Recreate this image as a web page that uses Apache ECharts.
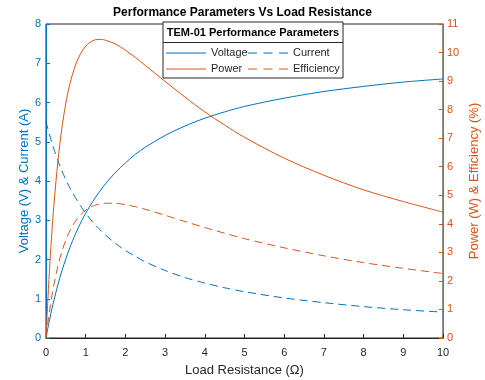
<!DOCTYPE html>
<html>
<head>
<meta charset="utf-8">
<script src="https://cdn.jsdelivr.net/npm/echarts@6/dist/echarts.min.js"></script>
<style>html,body{margin:0;padding:0;background:#fff;}#c{width:485px;height:380px;}</style>
</head>
<body>
<div id="c"></div>
<script>
var resistance = [0, 0.05, 0.1, 0.15, 0.2, 0.3, 0.4, 0.5, 0.6, 0.75, 0.9, 1, 1.1, 1.25, 1.4, 1.5, 1.75, 2, 2.25, 2.5, 3, 3.5, 4, 4.5, 5, 6, 7, 8, 9, 10];
var voltage    = [0, 0.27, 0.51, 0.75, 0.96, 1.36, 1.71, 2.02, 2.30, 2.67, 2.99, 3.18, 3.35, 3.59, 3.80, 3.93, 4.22, 4.46, 4.68, 4.86, 5.16, 5.40, 5.60, 5.76, 5.90, 6.11, 6.28, 6.41, 6.52, 6.60];
var current    = [5.52, 5.32, 5.14, 4.97, 4.81, 4.52, 4.26, 4.03, 3.83, 3.56, 3.32, 3.18, 3.05, 2.87, 2.72, 2.62, 2.41, 2.23, 2.08, 1.94, 1.72, 1.54, 1.40, 1.28, 1.18, 1.02, 0.90, 0.80, 0.72, 0.66];
var power      = [0, 1.43, 2.67, 3.75, 4.68, 6.19, 7.35, 8.23, 8.89, 9.59, 10.03, 10.22, 10.35, 10.45, 10.46, 10.43, 10.30, 10.08, 9.83, 9.55, 8.99, 8.44, 7.92, 7.46, 7.03, 6.30, 5.70, 5.19, 4.78, 4.41];
var efficiency = [0, 0.56, 1.05, 1.49, 1.87, 2.52, 3.03, 3.43, 3.75, 4.11, 4.36, 4.48, 4.57, 4.66, 4.71, 4.72, 4.72, 4.67, 4.60, 4.51, 4.30, 4.08, 3.87, 3.67, 3.48, 3.16, 2.88, 2.64, 2.44, 2.26];
var xTicks = [0,1,2,3,4,5,6,7,8,9,10];
var leftTicks = [0,1,2,3,4,5,6,7,8];
var rightTicks = [0,1,2,3,4,5,6,7,8,9,10,11];

var BLUE = '#0072BD', ORANGE = '#D95319', DARK = '#262626';
var FONT = 'Liberation Sans, Arial, Helvetica, sans-serif';
var SOLID_ICON = 'path://M0,0h40v1h-40z';
var DASH_ICON = 'path://M0,0h9v1h-9zM15.5,0h9v1h-9zM31,0h9v1h-9z';
function pairs(ys){ return resistance.map(function(x,i){ return [x, ys[i]]; }); }

var chart = echarts.init(document.getElementById('c'), null, {renderer:'canvas'});
chart.setOption({
  animation: false,
  backgroundColor: '#fff',
  title: {
    text: 'Performance Parameters Vs Load Resistance',
    left: 'center', top: 2,
    textStyle: {fontFamily: FONT, fontSize: 12, fontWeight: 'bold', color: '#000'}
  },
  grid: {left: 46, right: 42, top: 24, bottom: 42, containLabel: false, outerBoundsMode: 'none',
         show: true, borderColor: DARK, borderWidth: 1, backgroundColor: 'transparent'},
  xAxis: {
    type: 'value', min: xTicks[0], max: xTicks[xTicks.length-1], interval: 1,
    name: 'Load Resistance (Ω)', nameLocation: 'middle', nameGap: 26, nameMoveOverlap: false,
    nameTextStyle: {fontFamily: FONT, fontSize: 13, color: DARK},
    axisLine: {show: true, lineStyle: {color: DARK, width: 1}},
    axisTick: {show: true, inside: true, length: 4, lineStyle: {color: DARK}},
    axisLabel: {fontFamily: FONT, fontSize: 11, color: DARK, margin: 9},
    splitLine: {show: false}
  },
  yAxis: [{
    type: 'value', min: leftTicks[0], max: leftTicks[leftTicks.length-1], interval: 1, position: 'left',
    name: 'Voltage (V) & Current (A)', nameLocation: 'middle', nameGap: 15, nameRotate: 90, nameMoveOverlap: false,
    nameTextStyle: {fontFamily: FONT, fontSize: 13, color: BLUE},
    axisLine: {show: true, lineStyle: {color: BLUE, width: 1}},
    axisTick: {show: true, inside: true, length: 4, lineStyle: {color: BLUE}},
    axisLabel: {fontFamily: FONT, fontSize: 11, color: BLUE, margin: 5},
    splitLine: {show: false}
  }, {
    type: 'value', min: rightTicks[0], max: rightTicks[rightTicks.length-1], interval: 1, position: 'right',
    name: 'Power (W) & Efficiency (%)', nameLocation: 'middle', nameGap: 25, nameRotate: 90, nameMoveOverlap: false,
    nameTextStyle: {fontFamily: FONT, fontSize: 13, color: ORANGE},
    axisLine: {show: true, lineStyle: {color: ORANGE, width: 1}},
    axisTick: {show: true, inside: true, length: 4, lineStyle: {color: ORANGE}},
    axisLabel: {fontFamily: FONT, fontSize: 11, color: ORANGE, margin: 4},
    splitLine: {show: false}
  }],
  legend: [{
    data: [{name: 'Voltage', icon: SOLID_ICON}, {name: 'Power', icon: SOLID_ICON}],
    orient: 'vertical', left: 166, top: 47, padding: 0,
    itemWidth: 40, itemHeight: 1, itemGap: 4, z: 110,
    textStyle: {fontFamily: FONT, fontSize: 11, color: DARK, lineHeight: 12}
  }, {
    data: [{name: 'Current', icon: DASH_ICON}, {name: 'Efficiency', icon: DASH_ICON}],
    orient: 'vertical', left: 248, top: 47, padding: 0,
    itemWidth: 40, itemHeight: 1, itemGap: 4, z: 110,
    textStyle: {fontFamily: FONT, fontSize: 11, color: DARK, lineHeight: 12}
  }],
  graphic: [
    {type: 'rect', z: 100, shape: {x: 163, y: 22, width: 180, height: 56},
     style: {fill: '#fff', stroke: DARK, lineWidth: 1}},
    {type: 'line', z: 101, shape: {x1: 163, y1: 42.5, x2: 343, y2: 42.5},
     style: {stroke: DARK, lineWidth: 1}},
    {type: 'text', z: 101, x: 253, y: 33,
     style: {text: 'TEM-01 Performance Parameters', fontFamily: FONT, fontSize: 11, fontWeight: 'bold',
             fill: '#000', textAlign: 'center', textVerticalAlign: 'middle'}}
  ],
  series: [
    {name: 'Voltage', type: 'line', yAxisIndex: 0, data: pairs(voltage), smooth: 0.3, symbol: 'none',
     lineStyle: {color: BLUE, width: 1}, itemStyle: {color: BLUE}},
    {name: 'Current', type: 'line', yAxisIndex: 0, data: pairs(current), smooth: 0.3, symbol: 'none',
     lineStyle: {color: BLUE, width: 1, type: [8, 5]}, itemStyle: {color: BLUE}},
    {name: 'Power', type: 'line', yAxisIndex: 1, data: pairs(power), smooth: 0.3, symbol: 'none',
     lineStyle: {color: ORANGE, width: 1}, itemStyle: {color: ORANGE}},
    {name: 'Efficiency', type: 'line', yAxisIndex: 1, data: pairs(efficiency), smooth: 0.3, symbol: 'none',
     lineStyle: {color: ORANGE, width: 1, type: [8, 5]}, itemStyle: {color: ORANGE}}
  ]
});
</script>
</body>
</html>
